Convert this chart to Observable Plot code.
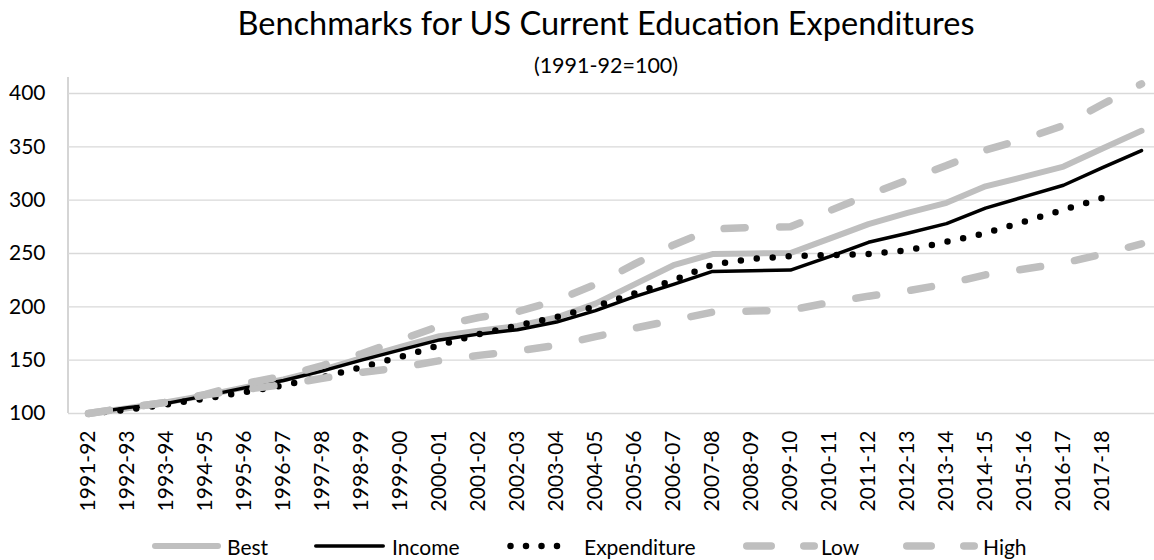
<!DOCTYPE html>
<html>
<head>
<meta charset="utf-8">
<script src="https://cdn.jsdelivr.net/npm/d3@7"></script>
<script src="https://cdn.jsdelivr.net/npm/@observablehq/plot@0.6"></script>
<style>
html, body { margin: 0; padding: 0; background: #fff; overflow: hidden; }
#wrap { position: relative; width: 1154px; height: 560px; overflow: hidden; font-family: Lato, "Open Sans", sans-serif; color: #000; }
#title { position: absolute; left: 0; width: 1212px; text-align: center; top: 7.2px; font-size: 32.5px; line-height: 32.5px; white-space: nowrap; z-index: 2; }
#subtitle { position: absolute; left: 0; width: 1212px; text-align: center; top: 55px; font-size: 21.5px; line-height: 21.5px; white-space: nowrap; z-index: 2; }
#chart { position: absolute; left: 0; top: 77px; z-index: 1; }
#legend { position: absolute; left: 0; top: 520px; width: 1154px; height: 40px; font-size: 21px; line-height: 21px; }
.sw { position: absolute; top: 16px; }
.lt { position: absolute; top: 16.4px; white-space: nowrap; }
</style>
</head>
<body>
<div id="wrap">
  <div id="title">Benchmarks for US Current Education Expenditures</div>
  <div id="subtitle">(1991-92=100)</div>
  <div id="chart"></div>
  <div id="legend"></div>
</div>
<script>
// ---- data ----
const years = ["1991-92","1992-93","1993-94","1994-95","1995-96","1996-97","1997-98","1998-99","1999-00","2000-01","2001-02","2002-03","2003-04","2004-05","2005-06","2006-07","2007-08","2008-09","2009-10","2010-11","2011-12","2012-13","2013-14","2014-15","2015-16","2016-17","2017-18","2018-19"];
const tickLabels = ["1991-92","1992-93","1993-94","1994-95","1995-96","1996-97","1997-98","1998-99","1999-00","2000-01","2001-02","2002-03","2003-04","2004-05","2005-06","2006-07","2007-08","2008-09","2009-10","2010-11","2011-12","2012-13","2013-14","2014-15","2015-16","2016-17","2017-18"];
const yTicks = [100, 150, 200, 250, 300, 350, 400];
const best = [100, 105, 110.5, 117, 124.5, 132, 141, 152, 162.5, 172.5, 177.5, 182, 190, 203, 221, 239, 249.5, 250, 250.5, 264, 277.5, 288, 297.5, 313, 322, 331.5, 348.5, 365];
const income = [100, 105.5, 109.5, 116.5, 124, 131, 140, 150, 159.7, 169, 174.4, 178.5, 185.7, 196.5, 209.5, 221, 233.2, 233.8, 234.5, 247, 260.5, 269, 278, 292.5, 303.3, 314, 330.5, 346.5];
const expenditure = [100, 103.5, 108.5, 114, 120, 126.5, 134, 143.5, 153, 164, 174.4, 182.5, 190.4, 200.5, 212.5, 225, 239.5, 245, 247.5, 248.5, 249.5, 253, 261, 269, 280, 291, 302];
const low = [100, 105.5, 110.5, 117.5, 122.5, 127, 133, 138.5, 143, 149.5, 154.5, 158.5, 164, 172, 180, 187.5, 195, 196, 197, 204, 210, 215, 221.5, 230, 235.5, 241, 249.5, 259];
const high = [100, 105.5, 110.5, 118, 128, 135, 145, 156, 169, 182, 190, 195.5, 206, 221, 240, 258, 273, 274.5, 275, 290, 305, 319, 332.5, 347, 357.5, 370, 390, 409];
const seriesNames = ["Best", "Income", "Expenditure", "Low", "High"];

// ---- styles ----
const GRAY = "#bfbfbf";
const styles = {
  Best:        {stroke: GRAY, strokeWidth: 6, strokeDasharray: null, legendDash: null},
  Income:      {stroke: "#000", strokeWidth: 3.5, strokeDasharray: null, legendDash: null},
  Expenditure: {stroke: "#000", strokeWidth: 6.5, strokeDasharray: "0 16", legendDash: "0 15.5"},
  Low:         {stroke: GRAY, strokeWidth: 7.5, strokeDasharray: "21 34.5", legendDash: "24.5 32.5"},
  High:        {stroke: GRAY, strokeWidth: 7.5, strokeDasharray: "21 34.5", legendDash: "24.5 32.5"}
};
const valuesOf = {Best: best, Income: income, Expenditure: expenditure, Low: low, High: high};

const labelOf = new Map(years.map((y, i) => [y, tickLabels[i] ?? ""]));

const lineMarks = seriesNames.map(name => {
  const s = styles[name];
  const data = valuesOf[name].map((v, i) => ({year: years[i], value: v}));
  const opts = {x: "year", y: "value", stroke: s.stroke, strokeWidth: s.strokeWidth,
    strokeLinecap: "round", strokeLinejoin: "round"};
  if (s.strokeDasharray) opts.strokeDasharray = s.strokeDasharray;
  return Plot.lineY(data, opts);
});

const W = 1154, H = 440;
const plot = Plot.plot({
  width: W,
  height: H,
  marginTop: 0,
  marginBottom: 104,
  marginLeft: 68,
  marginRight: 0,
  style: {fontFamily: "Lato, 'Open Sans', sans-serif", fontSize: "21px", color: "#000", background: "transparent", overflow: "visible"},
  x: {type: "point", domain: years, range: [68, 1160], padding: 0.5, label: null},
  y: {domain: [100, 415], label: null},
  marks: [
    Plot.gridY(yTicks, {stroke: "#d9d9d9", strokeOpacity: 1, strokeWidth: 1.3}),
    Plot.axisY(yTicks, {anchor: "left", tickSize: 0, tickPadding: 23, fontSize: 21, fill: "#000", label: null}),
    Plot.axisX({anchor: "bottom", tickSize: 0, tickPadding: 17, tickRotate: -90, fontSize: 21, fill: "#000",
      tickFormat: d => labelOf.get(d), label: null}),
    ...lineMarks
  ]
});
document.getElementById("chart").appendChild(plot);

// left axis line drawn from the library's own y scale
const ys = plot.scale("y");
const yPx = v => ys.apply(v);
d3.select(plot).insert("line", ":first-child")
  .attr("x1", 68).attr("x2", 68)
  .attr("y1", yPx(100)).attr("y2", yPx(415))
  .attr("stroke", "#bfbfbf").attr("stroke-width", 1.3);

// ---- legend ----
const legendSwatchLeft = {Best: 152, Income: 314, Expenditure: 507, Low: 743, High: 903};
const legendTextLeft = {Best: 227, Income: 392, Expenditure: 584, Low: 821, High: 983};
const legendLine = {Best: [3, 66], Income: [1.75, 69.25], Expenditure: [3.5, 65.5], Low: [3.75, 71.25], High: [3.75, 71.25]};
const legend = d3.select("#legend");
seriesNames.forEach(name => {
  const s = styles[name];
  const svg = legend.append("svg").attr("class", "sw")
    .style("left", legendSwatchLeft[name] + "px")
    .attr("width", 76).attr("height", 20);
  const [a, b] = legendLine[name];
  const ln = svg.append("line").attr("x1", a).attr("x2", b).attr("y1", 10).attr("y2", 10)
    .attr("stroke", s.stroke).attr("stroke-width", s.strokeWidth)
    .attr("stroke-linecap", "round");
  if (s.legendDash) ln.attr("stroke-dasharray", s.legendDash);
  legend.append("div").attr("class", "lt").style("left", legendTextLeft[name] + "px").text(name);
});
</script>
</body>
</html>
